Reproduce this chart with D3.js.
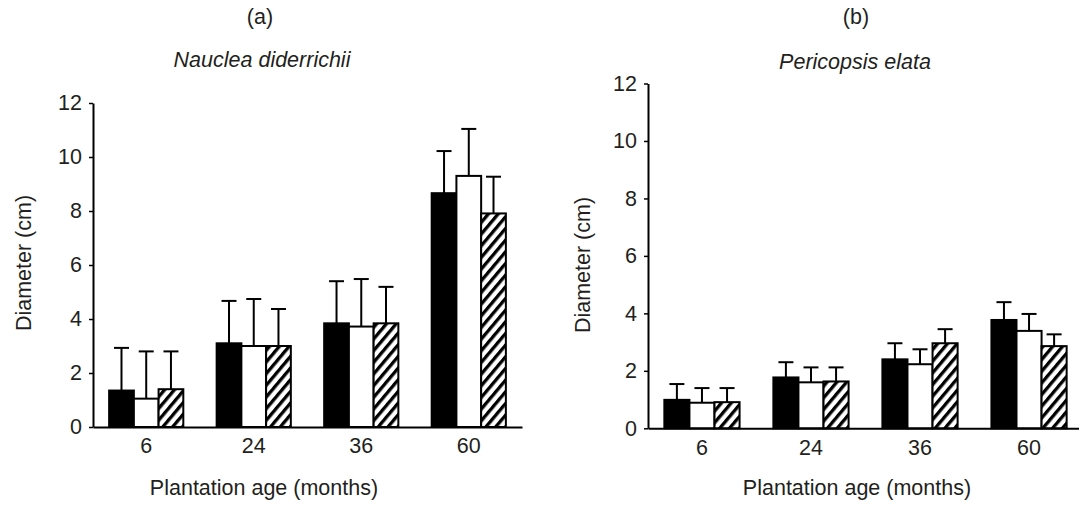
<!DOCTYPE html>
<html lang="en">
  <head>
    <meta charset="utf-8">
    <title>Diameter by plantation age</title>
    <script src="https://d3js.org/d3.v7.min.js"></script>
    <style>
      body { margin: 0; background: #fff; }
      text { font-family: "Liberation Sans", Arial, sans-serif; fill: #231f20; }
    </style>
  </head>
  <body>
    <div class="chart"></div>
    <script type="text/javascript">
      // values
      const ages = ['6', '24', '36', '60'];
      const treatments = ['solid', 'open', 'hatched'];

      // Nauclea diderrichii, mean diameter (cm) per age, one entry per treatment
      const naucleaMean = [[1.35, 1.05, 1.4], [3.1, 3.0, 3.0], [3.84, 3.72, 3.84], [8.66, 9.3, 7.91]];
      const naucleaSD = [[1.58, 1.75, 1.4], [1.57, 1.74, 1.37], [1.56, 1.76, 1.35], [1.56, 1.74, 1.36]];

      // Pericopsis elata
      const pericopsisMean = [[0.99, 0.89, 0.91], [1.77, 1.6, 1.63], [2.4, 2.23, 2.96], [3.77, 3.39, 2.86]];
      const pericopsisSD = [[0.55, 0.51, 0.49], [0.53, 0.52, 0.49], [0.56, 0.52, 0.49], [0.62, 0.59, 0.41]];

      const yTicks = [0, 2, 4, 6, 8, 10, 12];

      const width = 1079, height = 513;
      const fontSize = 21.5;

      const svg = d3.select('.chart')
          .append('svg')
          .attr('width', width)
          .attr('height', height);

      // diagonal hatch for the third treatment
      svg.append('defs')
          .append('pattern')
          .attr('id', 'hatch')
          .attr('patternUnits', 'userSpaceOnUse')
          .attr('width', 7.5)
          .attr('height', 7.5)
          .attr('patternTransform', 'rotate(40)')
          .call(p => {
              p.append('rect').attr('width', 7.5).attr('height', 7.5).attr('fill', '#fff');
              p.append('rect').attr('width', 3.3).attr('height', 7.5).attr('fill', '#000');
          });

      const fills = { solid: '#000', open: '#fff', hatched: 'url(#hatch)' };

      function drawPanel(opt) {
          const g = svg.append('g');

          const x = d3.scaleBand()
              .domain(ages)
              .range([opt.left, opt.right])
              .paddingInner(0.31)
              .paddingOuter(0.15);

          const xIn = d3.scaleBand()
              .domain(treatments)
              .range([0, x.bandwidth()]);

          const y = d3.scaleLinear()
              .domain([0, 12])
              .range([opt.bottom, opt.top]);

          const rows = [];
          ages.forEach((a, i) => {
              treatments.forEach((t, j) => {
                  rows.push({ age: a, t: t, mean: opt.mean[i][j], sd: opt.sd[i][j] });
              });
          });

          const cx = d => x(d.age) + xIn(d.t) + xIn.bandwidth() / 2;

          // error whiskers (upper only) first so the bar outline sits on top
          const err = g.selectAll('.err')
              .data(rows)
              .enter()
              .append('g')
              .attr('stroke', '#000')
              .attr('stroke-width', 2);
          err.append('line')
              .attr('x1', cx)
              .attr('x2', cx)
              .attr('y1', d => y(d.mean))
              .attr('y2', d => y(d.mean + d.sd));
          err.append('line')
              .attr('x1', d => cx(d) - 7.5)
              .attr('x2', d => cx(d) + 7.5)
              .attr('y1', d => y(d.mean + d.sd))
              .attr('y2', d => y(d.mean + d.sd));

          g.selectAll('.bar')
              .data(rows)
              .enter()
              .append('rect')
              .attr('x', d => x(d.age) + xIn(d.t))
              .attr('width', xIn.bandwidth())
              .attr('y', d => y(d.mean))
              .attr('height', d => y(0) - y(d.mean))
              .attr('fill', d => fills[d.t])
              .attr('stroke', '#000')
              .attr('stroke-width', 2);

          const yAxis = d3.axisLeft(y)
              .tickValues(yTicks)
              .tickSize(4)
              .tickSizeOuter(0)
              .tickPadding(7);

          g.append('g')
              .attr('class', 'axis y-axis')
              .attr('transform', `translate(${opt.left},0)`)
              .call(yAxis)
              .call(a => a.select('.domain').attr('stroke-width', 2))
              .call(a => a.selectAll('line').attr('stroke-width', 1.5))
              .call(a => a.selectAll('text').attr('font-size', fontSize).attr('fill', '#231f20'));

          const xAxis = d3.axisBottom(x)
              .tickSize(0)
              .tickSizeOuter(0)
              .tickPadding(11);

          g.append('g')
              .attr('class', 'axis x-axis')
              .attr('transform', `translate(0,${opt.bottom})`)
              .call(xAxis)
              .call(a => a.select('.domain').attr('stroke-width', 2))
              .call(a => a.selectAll('text').attr('font-size', fontSize).attr('fill', '#231f20'));

          g.append('text')
              .attr('x', opt.letterX)
              .attr('y', 24)
              .attr('text-anchor', 'middle')
              .attr('font-size', fontSize)
              .text(opt.letter);

          g.append('text')
              .attr('x', opt.titleX)
              .attr('y', opt.titleY)
              .attr('text-anchor', 'middle')
              .attr('font-size', fontSize)
              .attr('font-style', 'italic')
              .text(opt.species);

          g.append('text')
              .attr('x', opt.xLabelX)
              .attr('y', 495)
              .attr('text-anchor', 'middle')
              .attr('font-size', fontSize)
              .text('Plantation age (months)');

          g.append('text')
              .attr('transform', `translate(${opt.yLabelX},${opt.yLabelY}) rotate(-90)`)
              .attr('text-anchor', 'middle')
              .attr('font-size', fontSize)
              .text('Diameter (cm)');
      }

      drawPanel({
          left: 93, right: 522, top: 103, bottom: 427,
          mean: naucleaMean, sd: naucleaSD,
          letter: '(a)', letterX: 260, species: 'Nauclea diderrichii', titleX: 262, titleY: 67,
          xLabelX: 264, yLabelX: 31, yLabelY: 263
      });

      drawPanel({
          left: 648, right: 1083, top: 83.5, bottom: 428.3,
          mean: pericopsisMean, sd: pericopsisSD,
          letter: '(b)', letterX: 856, species: 'Pericopsis elata', titleX: 855, titleY: 69,
          xLabelX: 857, yLabelX: 590, yLabelY: 265
      });
    </script>
  </body>
</html>
